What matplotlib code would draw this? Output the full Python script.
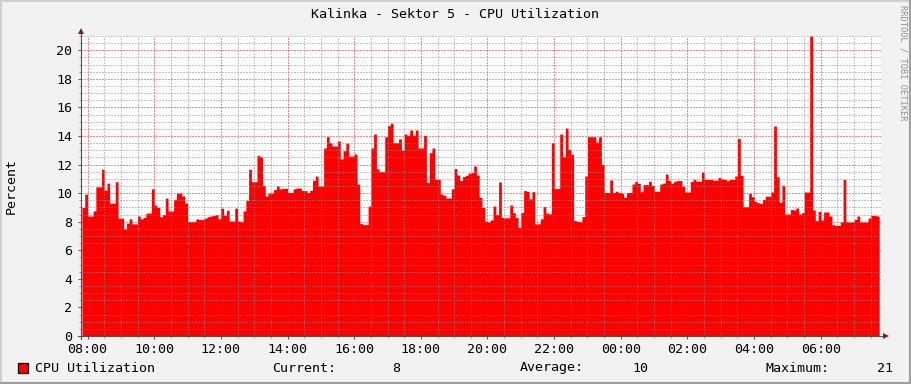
import numpy as np
import matplotlib
matplotlib.use('Agg')
import matplotlib.pyplot as plt
from matplotlib.lines import Line2D
from matplotlib.patches import Rectangle

# chart text
title = "Kalinka - Sektor 5 - CPU Utilization"
series_name = "CPU Utilization"
y_label = "Percent"
credit = "RRDTOOL / TOBI OETIKER"

# 5 minute samples, first one at 07:50
start_hour = 7 + 50 / 60.0
step_hours = 5 / 60.0
cpu_util = [
    9.0, 9.93, 8.4, 8.4, 8.76, 10.44, 10.44, 11.67, 10.2, 10.7, 9.3, 9.3,
    10.8, 8.25, 8.25, 7.5, 7.9, 8.2, 7.85, 7.85, 8.4, 8.2, 8.3, 8.6,
    8.6, 10.3, 9.15, 9.0, 8.35, 8.5, 9.65, 8.75, 8.75, 9.55, 10.0, 10.0,
    9.8, 9.3, 8.0, 8.0, 8.0, 8.2, 8.15, 8.15, 8.25, 8.35, 8.4, 8.45,
    8.5, 8.2, 8.95, 8.45, 8.8, 8.05, 8.05, 8.95, 8.05, 8.0, 8.75, 9.5,
    11.67, 10.8, 10.8, 12.65, 12.55, 10.55, 9.8, 10.0, 10.0, 10.25, 10.5, 10.3,
    10.34, 10.34, 10.04, 10.04, 10.3, 10.36, 10.36, 10.18, 10.18, 10.04, 10.2, 10.9,
    11.2, 10.5, 10.5, 13.16, 13.95, 13.53, 13.3, 13.3, 13.65, 12.4, 12.97, 13.5,
    12.6, 12.6, 12.74, 10.64, 7.87, 7.8, 7.8, 9.1, 13.16, 14.14, 11.7, 11.5,
    11.5, 13.95, 14.72, 14.9, 13.53, 13.53, 13.8, 13.0, 14.14, 14.05, 14.42, 14.05,
    14.42, 13.16, 13.16, 14.05, 10.74, 12.83, 13.16, 10.97, 10.97, 9.94, 9.85, 9.66,
    9.66, 10.3, 11.72, 11.27, 10.88, 11.16, 11.25, 11.4, 11.44, 11.9, 11.27, 9.71,
    9.0, 8.03, 7.99, 8.13, 9.1, 8.5, 10.78, 8.3, 8.27, 8.27, 9.17, 8.64,
    8.3, 7.6, 8.64, 10.18, 10.13, 9.6, 10.1, 7.85, 7.85, 8.2, 9.06, 8.6,
    8.55, 13.53, 10.32, 10.32, 14.14, 12.55, 14.56, 13.07, 12.72, 8.08, 8.03, 7.99,
    8.36, 11.2, 13.95, 13.95, 13.95, 13.58, 13.95, 12.0, 10.04, 10.04, 10.92, 10.04,
    10.13, 10.04, 9.99, 9.71, 10.04, 10.04, 10.64, 10.83, 10.69, 10.1, 10.6, 10.6,
    10.83, 10.55, 10.13, 10.13, 10.64, 10.7, 11.34, 10.88, 10.69, 10.83, 10.88, 10.88,
    10.5, 10.08, 10.08, 10.82, 10.96, 10.84, 10.84, 11.47, 10.96, 10.96, 10.96, 10.91,
    10.91, 11.1, 11.0, 10.96, 10.87, 10.96, 10.96, 11.2, 13.83, 11.24, 9.05, 9.05,
    9.98, 9.75, 9.42, 9.33, 9.28, 9.56, 9.79, 9.79, 10.08, 14.7, 11.15, 9.37,
    10.55, 8.54, 8.54, 8.86, 8.82, 8.96, 8.54, 8.63, 10.08, 10.08, 21.0, 8.82,
    8.07, 8.72, 8.12, 8.68, 8.68, 8.4, 7.79, 7.74, 7.74, 7.98, 10.96, 7.98,
    7.98, 7.98, 8.16, 8.4, 7.98, 7.98, 7.98, 8.26, 8.45, 8.45, 8.4,
]

tick_hours = [8, 10, 12, 14, 16, 18, 20, 22, 24, 26, 28, 30]
tick_labels = ['08:00', '10:00', '12:00', '14:00', '16:00', '18:00',
               '20:00', '22:00', '00:00', '02:00', '04:00', '06:00']
y_ticks = [0, 2, 4, 6, 8, 10, 12, 14, 16, 18, 20]

W, H = 911, 384
mono = 'DejaVu Sans Mono'
fs = 9.6


def px(x, y):
    # pixel position -> figure fraction
    return x / W, 1 - y / H


fig = plt.figure(figsize=(W / 100, H / 100), dpi=100, facecolor='#f2f2f2')
ax = fig.add_axes([81 / W, 1 - 336 / H, 800 / W, 300 / H])
ax.set_facecolor('white')

t = start_hour + np.arange(len(cpu_util) + 1) * step_hours
vals = np.array(cpu_util + [cpu_util[-1]])
ax.fill_between(t, 0, vals, step='post', color='#ff0000', lw=0, zorder=1)

ax.set_xlim(7.805, 31.805)
ax.set_ylim(0, 21)

# grid on top of the area, like rrdtool
ax.set_axisbelow(False)
ax.set_xticks(tick_hours)
ax.set_xticklabels(tick_labels, family=mono, fontsize=fs)
ax.set_xticks(np.arange(8, 32, 0.5), minor=True)
ax.set_yticks(y_ticks)
ax.set_yticklabels([str(v) for v in y_ticks], family=mono, fontsize=fs)
ax.set_yticks(np.arange(0, 21.01, 0.5), minor=True)

minor_col = (0.55, 0.55, 0.55, 0.35)
major_col = (0.9, 0.1, 0.1, 0.32)
ax.grid(True, which='minor', color=minor_col, lw=0.72, ls=(0, (1, 2)))
ax.grid(True, which='major', color=major_col, lw=0.72, ls=(0, (1, 2)))
ax.tick_params(which='major', length=2.2, width=0.72, color=(0.7, 0.2, 0.2), pad=3)
ax.tick_params(which='minor', length=1.5, width=0.72, color=(0.6, 0.6, 0.6))
ax.tick_params(axis='y', which='major', pad=4)

for s in ax.spines.values():
    s.set_visible(False)

# axes with arrows
ax.plot([-0.004, 1.004], [0, 0], transform=ax.transAxes, color='#505050',
        lw=0.8, clip_on=False, zorder=5)
ax.plot([1.006], [0], marker='>', ms=4.5, color='#7f1f1f', mew=0,
        transform=ax.transAxes, clip_on=False, zorder=6)
ax.plot([0, 0], [-0.01, 1.01], transform=ax.transAxes, color='#505050',
        lw=0.8, clip_on=False, zorder=5)
ax.plot([0], [1.018], marker='^', ms=4.5, color='#7f1f1f', mew=0,
        transform=ax.transAxes, clip_on=False, zorder=6)

# texts
fig.text(*px(455, 14), title, ha='center', va='center', family=mono, fontsize=fs)
fig.text(*px(11, 186), y_label, ha='center', va='center', rotation=90,
         family=mono, fontsize=fs)
fig.text(*px(903, 5), credit, ha='center', va='top', rotation=270,
         family=mono, fontsize=6.3, color='#909090')

# legend row
current = cpu_util[-1]
average = np.mean(cpu_util)
maximum = max(cpu_util)
ly = 368
fig.add_artist(Rectangle(px(17.5, 373), 10 / W, 10 / H, transform=fig.transFigure,
                         facecolor='#ff0000', edgecolor='black', lw=0.9))
fig.text(*px(35, ly), series_name, ha='left', va='center', family=mono, fontsize=fs)
fig.text(*px(272, ly), "Current:", ha='left', va='center', family=mono, fontsize=fs)
fig.text(*px(400, ly), "%.0f" % current, ha='right', va='center', family=mono, fontsize=fs)
fig.text(*px(520, ly), "Average:", ha='left', va='center', family=mono, fontsize=fs)
fig.text(*px(648, ly), "%.0f" % average, ha='right', va='center', family=mono, fontsize=fs)
fig.text(*px(766, ly), "Maximum:", ha='left', va='center', family=mono, fontsize=fs)
fig.text(*px(893, ly), "%.0f" % maximum, ha='right', va='center', family=mono, fontsize=fs)

# 3d-ish frame round the image
light, dark = '#cfcfcf', '#9e9e9e'
fig.add_artist(Line2D([0, 1], [1 - 1 / H, 1 - 1 / H], color=light, lw=1.5))
fig.add_artist(Line2D([1 / W, 1 / W], [0, 1], color=light, lw=1.5))
fig.add_artist(Line2D([0, 1], [1 / H, 1 / H], color=dark, lw=1.5))
fig.add_artist(Line2D([1 - 1 / W, 1 - 1 / W], [0, 1], color=dark, lw=1.5))

fig.savefig('out.png', dpi=100, facecolor=fig.get_facecolor())
